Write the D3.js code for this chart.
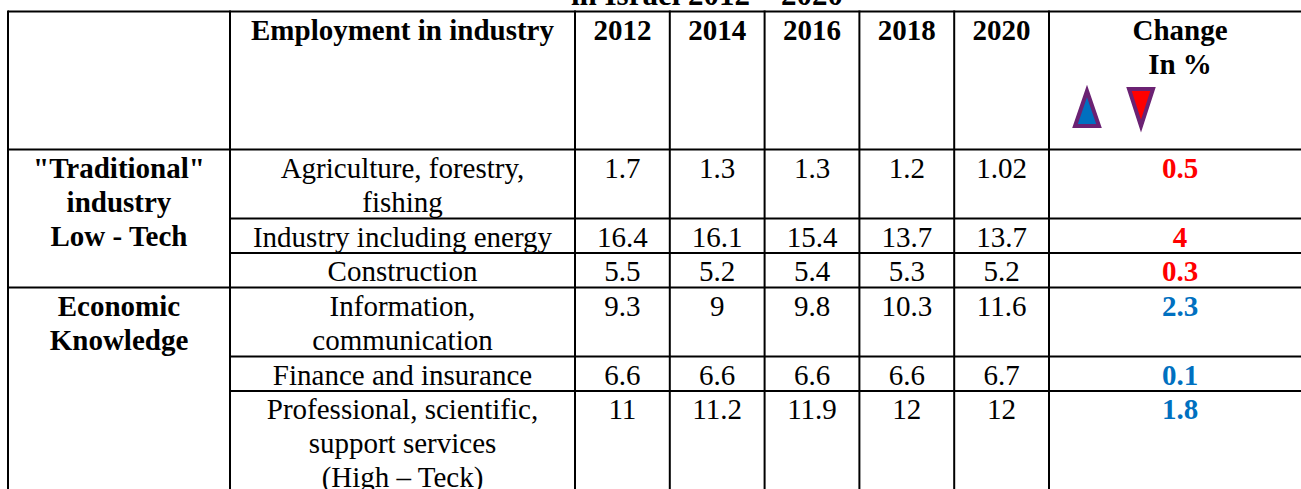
<!DOCTYPE html>
<html>
<head>
<meta charset="utf-8">
<script src="https://cdn.jsdelivr.net/npm/d3@7"></script>
<style>
  html, body { margin: 0; padding: 0; background: #fff; overflow: hidden; }
  text { font-family: "Liberation Serif", "Times New Roman", serif; }
</style>
</head>
<body>
<div id="chart"></div>
<script>
const title = "in Israel 2012 \u2013 2020";
const years = ["2012", "2014", "2016", "2018", "2020"];
const groups = [
  ['"Traditional"', "industry", "Low - Tech"],
  ["Economic", "Knowledge"]
];
const groupRows = [[0, 1, 2], [3, 4, 5]];
const industries = [
  ["Agriculture, forestry,", "fishing"],
  ["Industry including energy"],
  ["Construction"],
  ["Information,", "communication"],
  ["Finance and insurance"],
  ["Professional, scientific,", "support services", "(High \u2013 Teck)"]
];
const v2012 = ["1.7", "16.4", "5.5", "9.3", "6.6", "11"];
const v2014 = ["1.3", "16.1", "5.2", "9", "6.6", "11.2"];
const v2016 = ["1.3", "15.4", "5.4", "9.8", "6.6", "11.9"];
const v2018 = ["1.2", "13.7", "5.3", "10.3", "6.6", "12"];
const v2020 = ["1.02", "13.7", "5.2", "11.6", "6.7", "12"];
const change = ["0.5", "4", "0.3", "2.3", "0.1", "1.8"];
const direction = ["down", "down", "down", "up", "up", "up"];

const values = [v2012, v2014, v2016, v2018, v2020];

const w = 1301;
const h = 489;
const fs = 29;
const lineH = 34.5;
const pad = 28;

const svg = d3.select("#chart").append("svg")
  .attr("width", w)
  .attr("height", h);

// columns
const left = 8, c1 = 230, c2 = 575, cChange = 1049, right = 1311;
const x = d3.scaleBand().domain(years).range([c2, cChange]);
const changeMid = (cChange + right) / 2;

// rows measured in text lines (header takes 4)
const headerLines = 4;
const rowLines = industries.map(d => Math.max(d.length, 1));
const starts = [headerLines];
rowLines.forEach((n, i) => starts.push(starts[i] + n));
const y = d3.scaleLinear().domain([0, 1]).range([11.5, 11.5 + lineH]);

// title (cut off at the top)
svg.append("text")
  .attr("x", 707).attr("y", 5)
  .attr("text-anchor", "middle")
  .attr("font-size", 31).attr("font-weight", "bold")
  .text(title);

const lines = svg.append("g")
  .attr("stroke", "#000")
  .attr("stroke-width", 2);

// horizontal lines
const groupStarts = new Set(groupRows.map(g => g[0]));
lines.append("line")
  .attr("x1", left).attr("x2", right)
  .attr("y1", y(0)).attr("y2", y(0));
starts.forEach((s, i) => {
  const full = groupStarts.has(i) || i === 0;
  lines.append("line")
    .attr("x1", full ? left : c1).attr("x2", right)
    .attr("y1", y(s)).attr("y2", y(s));
});

// vertical lines
const xs = [left, c1].concat(years.map(d => x(d)), [cChange, right]);
xs.forEach(v => {
  lines.append("line")
    .attr("x1", v).attr("x2", v)
    .attr("y1", y(0) - 1).attr("y2", h + 20);
});

function multiline(cx, top, arr, bold, color) {
  arr.forEach((t, i) => {
    svg.append("text")
      .attr("x", cx)
      .attr("y", top + pad + i * 34)
      .attr("text-anchor", "middle")
      .attr("font-size", fs)
      .attr("font-weight", bold ? "bold" : "normal")
      .attr("fill", color || "#000")
      .text(t);
  });
}

// header
multiline((c1 + c2) / 2, y(0), ["Employment in industry"], true);
years.forEach(yr => multiline(x(yr) + x.bandwidth() / 2, y(0), [yr], true));
multiline(changeMid, y(0), ["Change", "In %"], true);

// legend triangles
const triUp = d3.line()([[1087, 91], [1075, 126], [1099, 126]]) + "Z";
const triDown = d3.line()([[1129, 89], [1153, 89], [1141, 126]]) + "Z";
svg.append("path").attr("d", triUp)
  .attr("fill", "#0070c0").attr("stroke", "#6b2273").attr("stroke-width", 4);
svg.append("path").attr("d", triDown)
  .attr("fill", "#ff0000").attr("stroke", "#6b2273").attr("stroke-width", 4);

// group labels
groups.forEach((g, gi) => {
  multiline((left + c1) / 2, y(starts[groupRows[gi][0]]), g, true);
});

// rows
industries.forEach((ind, i) => {
  const top = y(starts[i]);
  multiline((c1 + c2) / 2, top, ind, false);
  years.forEach((yr, j) => {
    multiline(x(yr) + x.bandwidth() / 2, top, [values[j][i]], false);
  });
  multiline(changeMid, top, [change[i]], true,
    direction[i] === "up" ? "#0070c0" : "#ff0000");
});
</script>
</body>
</html>
